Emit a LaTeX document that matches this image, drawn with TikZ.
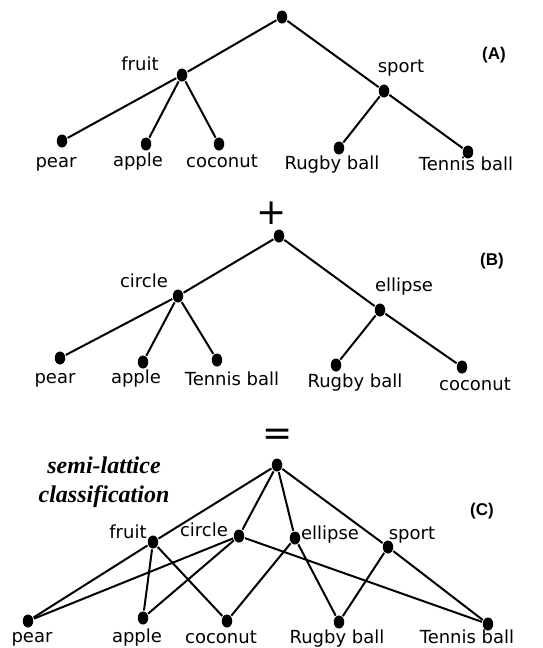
\documentclass[tikz,border=0pt]{standalone}
\usepackage{fontspec}
\setmainfont{DejaVu Sans}
\newfontfamily\tagfont{Liberation Sans}
\newfontfamily\notefont{Liberation Serif}
\usetikzlibrary{shapes.geometric}

\tikzset{
	dot/.style={ellipse, fill=black, inner sep=0pt, minimum width=10.5pt, minimum height=13pt},
	word/.style={anchor=base, inner sep=0pt, font=\fontsize{18}{20}\selectfont},
	tag/.style={anchor=base, inner sep=0pt, font=\tagfont\bfseries\fontsize{17}{20}\selectfont},
	sign/.style={inner sep=0pt, font=\fontsize{36}{40}\selectfont},
	note/.style={anchor=base, inner sep=0pt, font=\notefont\bfseries\itshape\fontsize{24}{29}\selectfont}
}

\begin{document}
\begin{tikzpicture}[x=1pt, y=-1pt, line width=2pt]

			\useasboundingbox (0,0) rectangle (542,648);

			% (A)
			\node[dot] (A-root) at (282,17) {};
			\node[dot] (A-fruit) at (182,75) {};
			\node[dot] (A-sport) at (384,91) {};
			\node[dot] (A-pear) at (62,141) {};
			\node[dot] (A-apple) at (146,144) {};
			\node[dot] (A-coconut) at (219,144) {};
			\node[dot] (A-rugby) at (339,148) {};
			\node[dot] (A-tennis) at (468,152) {};

			\node[word] (A-fruit-txt) at (140,70) {fruit};
			\node[word] (A-sport-txt) at (401,72) {sport};
			\node[word] (A-pear-txt) at (56,167) {pear};
			\node[word] (A-apple-txt) at (138,166) {apple};
			\node[word] (A-coconut-txt) at (222,167) {coconut};
			\node[word] (A-rugby-txt) at (332,169) {Rugby ball};
			\node[word] (A-tennis-txt) at (466,170) {Tennis ball};
			\node[tag] (A-tag) at (494,59) {(A)};

			\foreach \a/\b in {root/fruit, root/sport, fruit/pear, fruit/apple, fruit/coconut, sport/rugby, sport/tennis}
				\draw (A-\a)--(A-\b);

			\node[sign] (plus) at (272,213) {+};

			% (B)
			\node[dot] (B-root) at (279,236) {};
			\node[dot] (B-circle) at (178,296) {};
			\node[dot] (B-ellipse) at (380,310) {};
			\node[dot] (B-pear) at (60,358) {};
			\node[dot] (B-apple) at (143,362) {};
			\node[dot] (B-tennis) at (217,360) {};
			\node[dot] (B-rugby) at (336,365) {};
			\node[dot] (B-coconut) at (462,367) {};

			\node[word] (B-circle-txt) at (144,287) {circle};
			\node[word] (B-ellipse-txt) at (404,291) {ellipse};
			\node[word] (B-pear-txt) at (55,383) {pear};
			\node[word] (B-apple-txt) at (136,383) {apple};
			\node[word] (B-tennis-txt) at (232,385) {Tennis ball};
			\node[word] (B-rugby-txt) at (355,387) {Rugby ball};
			\node[word] (B-coconut-txt) at (475,390) {coconut};
			\node[tag] (B-tag) at (492,265) {(B)};

			\foreach \a/\b in {root/circle, root/ellipse, circle/pear, circle/apple, circle/tennis, ellipse/rugby, ellipse/coconut}
				\draw (B-\a)--(B-\b);

			\node[sign] (equals) at (278,437) {=};

			% (C)
			\node[dot] (C-root) at (277,465) {};
			\node[dot] (C-fruit) at (153,542) {};
			\node[dot] (C-circle) at (239,536) {};
			\node[dot] (C-ellipse) at (295,538) {};
			\node[dot] (C-sport) at (388,547) {};
			\node[dot] (C-pear) at (28,621) {};
			\node[dot] (C-apple) at (143,618) {};
			\node[dot] (C-coconut) at (227,621) {};
			\node[dot] (C-rugby) at (339,622) {};
			\node[dot] (C-tennis) at (488,624) {};

			\node[word] (C-fruit-txt) at (128,538) {fruit};
			\node[word] (C-circle-txt) at (204,536) {circle};
			\node[word] (C-ellipse-txt) at (330,539) {ellipse};
			\node[word] (C-sport-txt) at (412,539) {sport};
			\node[word] (C-pear-txt) at (32,642) {pear};
			\node[word] (C-apple-txt) at (137,642) {apple};
			\node[word] (C-coconut-txt) at (221,643) {coconut};
			\node[word] (C-rugby-txt) at (337,643) {Rugby ball};
			\node[word] (C-tennis-txt) at (467,643) {Tennis ball};
			\node[tag] (C-tag) at (482,515) {(C)};

			\node[note] (semi) at (104,473) {semi-lattice};
			\node[note] (classif) at (104,502) {classification};

			\foreach \a/\b in {root/fruit, root/circle, root/ellipse, root/sport, fruit/pear, fruit/apple, fruit/coconut, circle/pear, circle/apple, circle/tennis, ellipse/coconut, ellipse/rugby, sport/rugby, sport/tennis}
				\draw (C-\a)--(C-\b);

\end{tikzpicture}
\end{document}
